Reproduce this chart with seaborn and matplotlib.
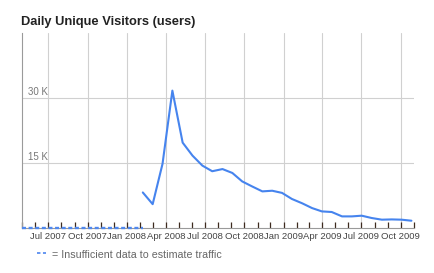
import matplotlib
matplotlib.use("Agg")
import matplotlib.pyplot as plt
import matplotlib.dates as mdates
from matplotlib.lines import Line2D
import seaborn as sns
import pandas as pd

# ---------------- data ----------------
dates = ["2008-02-07", "2008-03-01", "2008-03-24", "2008-04-16", "2008-05-10",
         "2008-06-02", "2008-06-25", "2008-07-18", "2008-08-11", "2008-09-03",
         "2008-09-26", "2008-10-19", "2008-11-12", "2008-12-05", "2008-12-28",
         "2009-01-20", "2009-02-13", "2009-03-08", "2009-03-31", "2009-04-23",
         "2009-05-17", "2009-06-09", "2009-07-02", "2009-07-25", "2009-08-18",
         "2009-09-10", "2009-10-03", "2009-10-26"]
visitors = [8200, 5500, 14800, 31700, 19700, 16700, 14400, 13100, 13600, 12700,
            10750, 9600, 8450, 8600, 8100, 6700, 5700, 4600, 3830, 3690,
            2680, 2680, 2840, 2310, 1920, 1980, 1920, 1680]
gap_dates = ["2007-05-01", "2008-02-07"]
gap_values = [0, 0]
x_tick_dates = ["2007-07-01", "2007-10-01", "2008-01-01", "2008-04-01", "2008-07-01",
                "2008-10-01", "2009-01-01", "2009-04-01", "2009-07-01", "2009-10-01"]
x_tick_labels = ["Jul 2007", "Oct 2007", "Jan 2008", "Apr 2008", "Jul 2008",
                 "Oct 2008", "Jan 2009", "Apr 2009", "Jul 2009", "Oct 2009"]
y_ticks = [15000, 30000]
y_tick_labels = ["15 K", "30 K"]
x_range = ["2007-05-01", "2009-11-01"]
y_range = [0, 45000]
title = "Daily Unique Visitors (users)"
legend_text = "= Insufficient data to estimate traffic"

# ---------------- style ----------------
sns.set_theme(style="white")
plt.rcParams['font.family'] = ['Liberation Sans', 'DejaVu Sans']

BLUE = "#4684EE"
W, H = 434, 273
fig = plt.figure(figsize=(W / 100, H / 100), dpi=100)
ax = fig.add_axes([22 / W, 45 / H, 392 / W, 195 / H])

df = pd.DataFrame({"date": pd.to_datetime(dates), "visitors": visitors})
gap = pd.DataFrame({"date": pd.to_datetime(gap_dates), "visitors": gap_values})

sns.lineplot(data=df, x="date", y="visitors", ax=ax, color=BLUE,
             linewidth=1.5, zorder=5)
sns.lineplot(data=gap, x="date", y="visitors", ax=ax, color="#4f88ee",
             linewidth=1.7, linestyle=(0, (1.7, 1.1)), zorder=10, clip_on=False)

ax.set_xlim(pd.to_datetime(x_range[0]), pd.to_datetime(x_range[1]))
ax.set_ylim(*y_range)

ax.set_xticks(pd.to_datetime(x_tick_dates))
ax.set_xticklabels(x_tick_labels)
ax.xaxis.set_minor_locator(mdates.MonthLocator())
ax.tick_params(axis="x", which="both", direction="in", length=4, width=0.9,
               color="#3d2b1f", bottom=True, pad=3, labelsize=6.8,
               labelcolor="#444444")

ax.set_yticks(y_ticks)
ax.set_yticklabels([])
ax.tick_params(axis="y", which="both", left=False, length=0)
for v, lab in zip(y_ticks, y_tick_labels):
    ax.annotate(lab, xy=(0, v), xycoords=("axes fraction", "data"),
                xytext=(6, 3), textcoords="offset pixels", ha="left",
                va="baseline", fontsize=7, color="#777777")

ax.grid(True, which="major", color="#d0d0d0", linewidth=0.8)
ax.set_axisbelow(True)
ax.set_xlabel("")
ax.set_ylabel("")
for side in ("top", "right"):
    ax.spines[side].set_visible(False)
for side in ("left", "bottom"):
    ax.spines[side].set_color("#9a9a9a")
    ax.spines[side].set_linewidth(0.8)

fig.text(21 / W, 248 / H, title, fontsize=9.3, fontweight="bold",
         color="#222222", ha="left", va="baseline")

fig.add_artist(Line2D([37 / W, 46 / W], [20 / H, 20 / H], color="#5b8ff0",
                      linewidth=1.3, linestyle=(0, (1.9, 1.4)),
                      transform=fig.transFigure))
fig.text(52 / W, 14.5 / H, legend_text, fontsize=7.7, color="#666666",
         ha="left", va="baseline")

fig.savefig("out.png", dpi=100)
